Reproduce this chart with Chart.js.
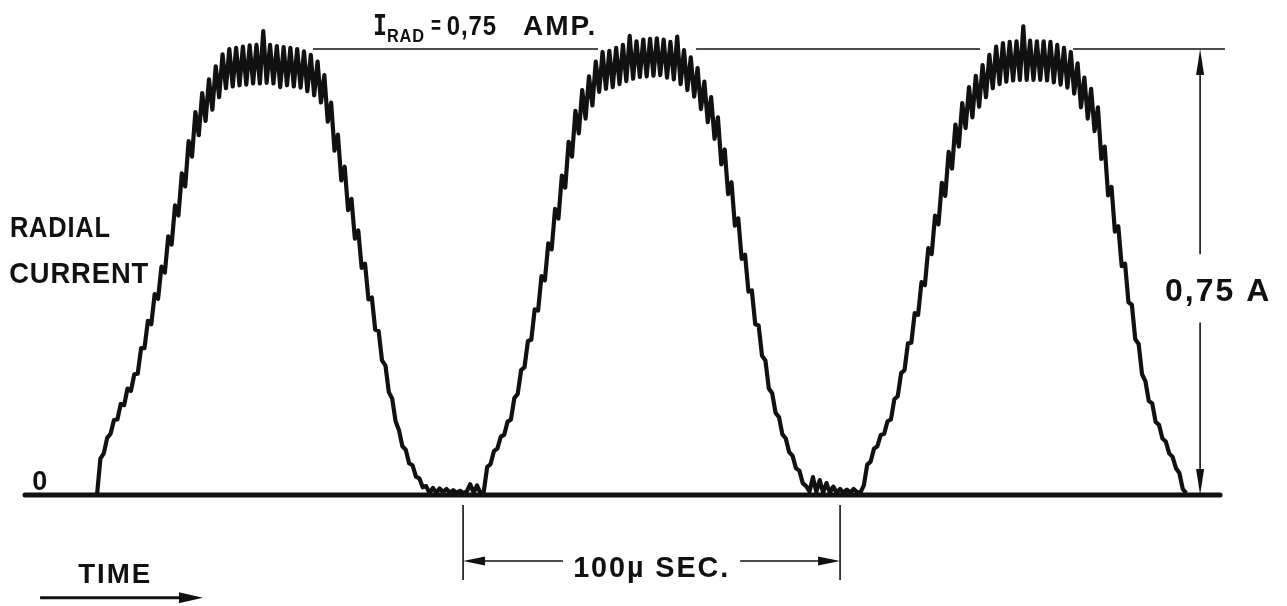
<!DOCTYPE html>
<html>
<head>
<meta charset="utf-8">
<title>Radial current</title>
<script src="https://cdn.jsdelivr.net/npm/chart.js@4/dist/chart.umd.min.js"></script>
<style>
  html, body { margin: 0; padding: 0; background: #fff; }
  canvas { display: block; }
</style>
</head>
<body>
<canvas id="scopeChart" width="1287" height="606"></canvas>
<script>
// oscilloscope trace: radial current (A), one sample every 0.9 µs
const sampleStepUs = 0.9;

// first pulse + flat part after it (starts at t = 0)
const sweep1 = [
  0.000, 0.061, 0.070, 0.096, 0.103, 0.126, 0.127, 0.153, 0.151, 0.179,
  0.175, 0.203, 0.204, 0.247, 0.247, 0.293, 0.287, 0.338, 0.330, 0.384,
  0.374, 0.435, 0.421, 0.487, 0.470, 0.541, 0.519, 0.595, 0.569, 0.644,
  0.605, 0.676, 0.629, 0.699, 0.648, 0.721, 0.669, 0.741, 0.684, 0.750,
  0.687, 0.752, 0.689, 0.754, 0.690, 0.756, 0.692, 0.757, 0.692, 0.780,
  0.693, 0.757, 0.692, 0.755, 0.686, 0.753, 0.689, 0.752, 0.687, 0.750,
  0.685, 0.746, 0.679, 0.740, 0.672, 0.729, 0.660, 0.706, 0.628, 0.660,
  0.579, 0.606, 0.529, 0.552, 0.479, 0.498, 0.431, 0.445, 0.382, 0.389,
  0.329, 0.332, 0.278, 0.276, 0.226, 0.218, 0.173, 0.162, 0.124, 0.109,
  0.082, 0.076, 0.053, 0.050, 0.031, 0.028, 0.013, 0.015, 0.003, 0.012,
  0.004, 0.011, 0.005, 0.010, 0.004, 0.008, 0.004, 0.007, 0.003, 0.006,
  0.018, 0.004, 0.016, 0.003
];

// second pulse
const sweep2 = [
  0.006, 0.047, 0.052, 0.074, 0.078, 0.098, 0.101, 0.123, 0.127, 0.163,
  0.170, 0.210, 0.215, 0.259, 0.261, 0.312, 0.310, 0.368, 0.361, 0.423,
  0.413, 0.481, 0.465, 0.537, 0.517, 0.594, 0.569, 0.646, 0.608, 0.681,
  0.633, 0.704, 0.655, 0.729, 0.678, 0.745, 0.683, 0.747, 0.686, 0.752,
  0.691, 0.757, 0.696, 0.772, 0.700, 0.763, 0.703, 0.766, 0.704, 0.767,
  0.705, 0.768, 0.706, 0.766, 0.702, 0.762, 0.699, 0.771, 0.691, 0.748,
  0.681, 0.736, 0.670, 0.718, 0.649, 0.695, 0.627, 0.669, 0.599, 0.635,
  0.556, 0.581, 0.506, 0.526, 0.453, 0.465, 0.397, 0.404, 0.342, 0.344,
  0.287, 0.285, 0.234, 0.226, 0.179, 0.171, 0.138, 0.131, 0.102, 0.095,
  0.072, 0.066, 0.045, 0.041, 0.020, 0.015, 0.006, 0.030, 0.005, 0.025,
  0.004, 0.020, 0.004, 0.014, 0.004, 0.010, 0.004, 0.009, 0.004, 0.010,
  0.005, 0.004
];

// third pulse, trace ends at the foot
const sweep3 = [
  0.016, 0.051, 0.056, 0.078, 0.082, 0.101, 0.103, 0.124, 0.127, 0.161,
  0.166, 0.205, 0.210, 0.255, 0.256, 0.306, 0.303, 0.358, 0.353, 0.415,
  0.405, 0.470, 0.455, 0.525, 0.503, 0.577, 0.549, 0.623, 0.586, 0.659,
  0.617, 0.686, 0.635, 0.705, 0.653, 0.723, 0.669, 0.740, 0.684, 0.754,
  0.691, 0.760, 0.695, 0.762, 0.697, 0.763, 0.698, 0.788, 0.698, 0.764,
  0.698, 0.763, 0.698, 0.763, 0.697, 0.762, 0.694, 0.757, 0.690, 0.752,
  0.685, 0.745, 0.675, 0.726, 0.652, 0.702, 0.633, 0.683, 0.612, 0.652,
  0.565, 0.586, 0.504, 0.518, 0.443, 0.452, 0.385, 0.389, 0.324, 0.320,
  0.262, 0.254, 0.203, 0.191, 0.158, 0.154, 0.123, 0.118, 0.095, 0.090,
  0.070, 0.064, 0.045, 0.037, 0.010, 0.003
];

// reference values written on the figure
const peakCurrentA = 0.75;          // I_RAD = 0.75 AMP
const periodMarkUs = [97.1, 197.1]; // the 100 µs bracket

const ink = '#111';
const letterFont = '"Liberation Sans", Arial, sans-serif';

// all samples in one trace
const trace = sweep1.concat(sweep2, sweep3).map((v, i) => ({ x: i * sampleStepUs, y: v }));

function arrowHead(ctx, tx, ty, dx, dy, len, half) {
    const bx = tx - dx * len, by = ty - dy * len;
    ctx.beginPath();
    ctx.moveTo(tx, ty);
    ctx.lineTo(bx - dy * half, by + dx * half);
    ctx.lineTo(bx + dy * half, by - dx * half);
    ctx.closePath();
    ctx.fill();
}

function seg(ctx, x1, y1, x2, y2) {
    ctx.beginPath();
    ctx.moveTo(x1, y1);
    ctx.lineTo(x2, y2);
    ctx.stroke();
}

function text(ctx, str, x, y, size, maxW, family, spacing) {
    ctx.font = 'bold ' + size + 'px ' + (family || letterFont);
    ctx.letterSpacing = (spacing || 0) + 'px';
    ctx.textAlign = 'left';
    ctx.textBaseline = 'alphabetic';
    ctx.fillText(str, x, y, maxW);
    ctx.letterSpacing = '0px';
}

// drawing of the hand lettering, base line and dimension arrows
const sketchPlugin = {
    id: 'sketch',
    afterDatasetsDraw(chart) {
        const ctx = chart.ctx;
        const px = v => chart.scales.x.getPixelForValue(v);
        const py = v => chart.scales.y.getPixelForValue(v);
        ctx.save();
        ctx.strokeStyle = ink;
        ctx.fillStyle = ink;

        // zero line
        ctx.lineCap = 'round';
        ctx.lineWidth = 5;
        seg(ctx, px(-19.1), py(0), px(297.9), py(0));

        // 0.75 A level, broken where the pulses cross it
        ctx.lineCap = 'butt';
        ctx.lineWidth = 1.6;
        [[57.3, 132.9], [158.9, 234.2], [258.9, 299.2]].forEach(s => {
            seg(ctx, px(s[0]), py(peakCurrentA), px(s[1]), py(peakCurrentA));
        });

        // vertical dimension 0 .. 0.75 A
        const ax = px(292.6);
        seg(ctx, ax, py(peakCurrentA) + 20, ax, py(0.405));
        seg(ctx, ax, py(0.290), ax, py(0) - 20);
        arrowHead(ctx, ax, py(peakCurrentA), 0, -1, 26, 4);
        arrowHead(ctx, ax, py(0), 0, 1, 26, 4);

        // 100 µs bracket
        const yTop = py(-0.017), yBot = py(-0.143), yArr = py(-0.111);
        seg(ctx, px(periodMarkUs[0]), yTop, px(periodMarkUs[0]), yBot);
        seg(ctx, px(periodMarkUs[1]), yTop, px(periodMarkUs[1]), yBot);
        seg(ctx, px(periodMarkUs[0]) + 15, yArr, px(123.6), yArr);
        seg(ctx, px(170.6), yArr, px(periodMarkUs[1]) - 15, yArr);
        arrowHead(ctx, px(periodMarkUs[0]), yArr, -1, 0, 22, 4.5);
        arrowHead(ctx, px(periodMarkUs[1]), yArr, 1, 0, 22, 4.5);

        // time arrow
        ctx.lineWidth = 3;
        seg(ctx, px(-15.1), py(-0.173), px(24), py(-0.173));
        arrowHead(ctx, px(28.1), py(-0.173), 1, 0, 24, 5.5);

        // lettering
        text(ctx, 'RADIAL', px(-23.1), py(0.434), 30, 101, null, 1);
        text(ctx, 'CURRENT', px(-23.3), py(0.357), 30, 140, null, 1);
        text(ctx, '0', px(-17.2), py(0.008), 27, 16);
        text(ctx, 'I', px(73.2), py(0.7735), 28, 14, '"DejaVu Sans Mono", monospace');
        text(ctx, 'RAD', px(76.9), py(0.7618), 19, 38, null, 1);
        text(ctx, '=', px(88.6), py(0.776), 26, 10);
        text(ctx, '0,75', px(92.8), py(0.7735), 28, 50, null, 1);
        text(ctx, 'AMP.', px(113.0), py(0.7735), 28, 77, null, 2);
        text(ctx, '0,75 A', px(283.3), py(0.326), 32, 108, null, 2);
        text(ctx, '100\u00b5 SEC.', px(126.3), py(-0.138), 30, 157, null, 2);
        text(ctx, 'TIME', px(-5.0), py(-0.148), 28, 74, null, 2);

        ctx.restore();
    }
};

document.addEventListener('DOMContentLoaded', function() {
    const ctx = document.getElementById('scopeChart');
    new Chart(ctx, {
        type: 'line',
        data: {
            datasets: [{
                label: 'Radial current',
                data: trace,
                borderColor: ink,
                borderWidth: 4.2,
                borderJoinStyle: 'round',
                pointRadius: 0,
                tension: 0,
                fill: false
            }]
        },
        options: {
            responsive: false,
            animation: false,
            devicePixelRatio: 1,
            layout: { padding: 0 },
            plugins: {
                legend: { display: false },
                tooltip: { enabled: false }
            },
            scales: {
                x: { type: 'linear', min: -25.73, max: 315.65, display: false },
                y: { type: 'linear', min: -0.1867, max: 0.8324, display: false }
            }
        },
        plugins: [sketchPlugin]
    });
});
</script>
</body>
</html>
